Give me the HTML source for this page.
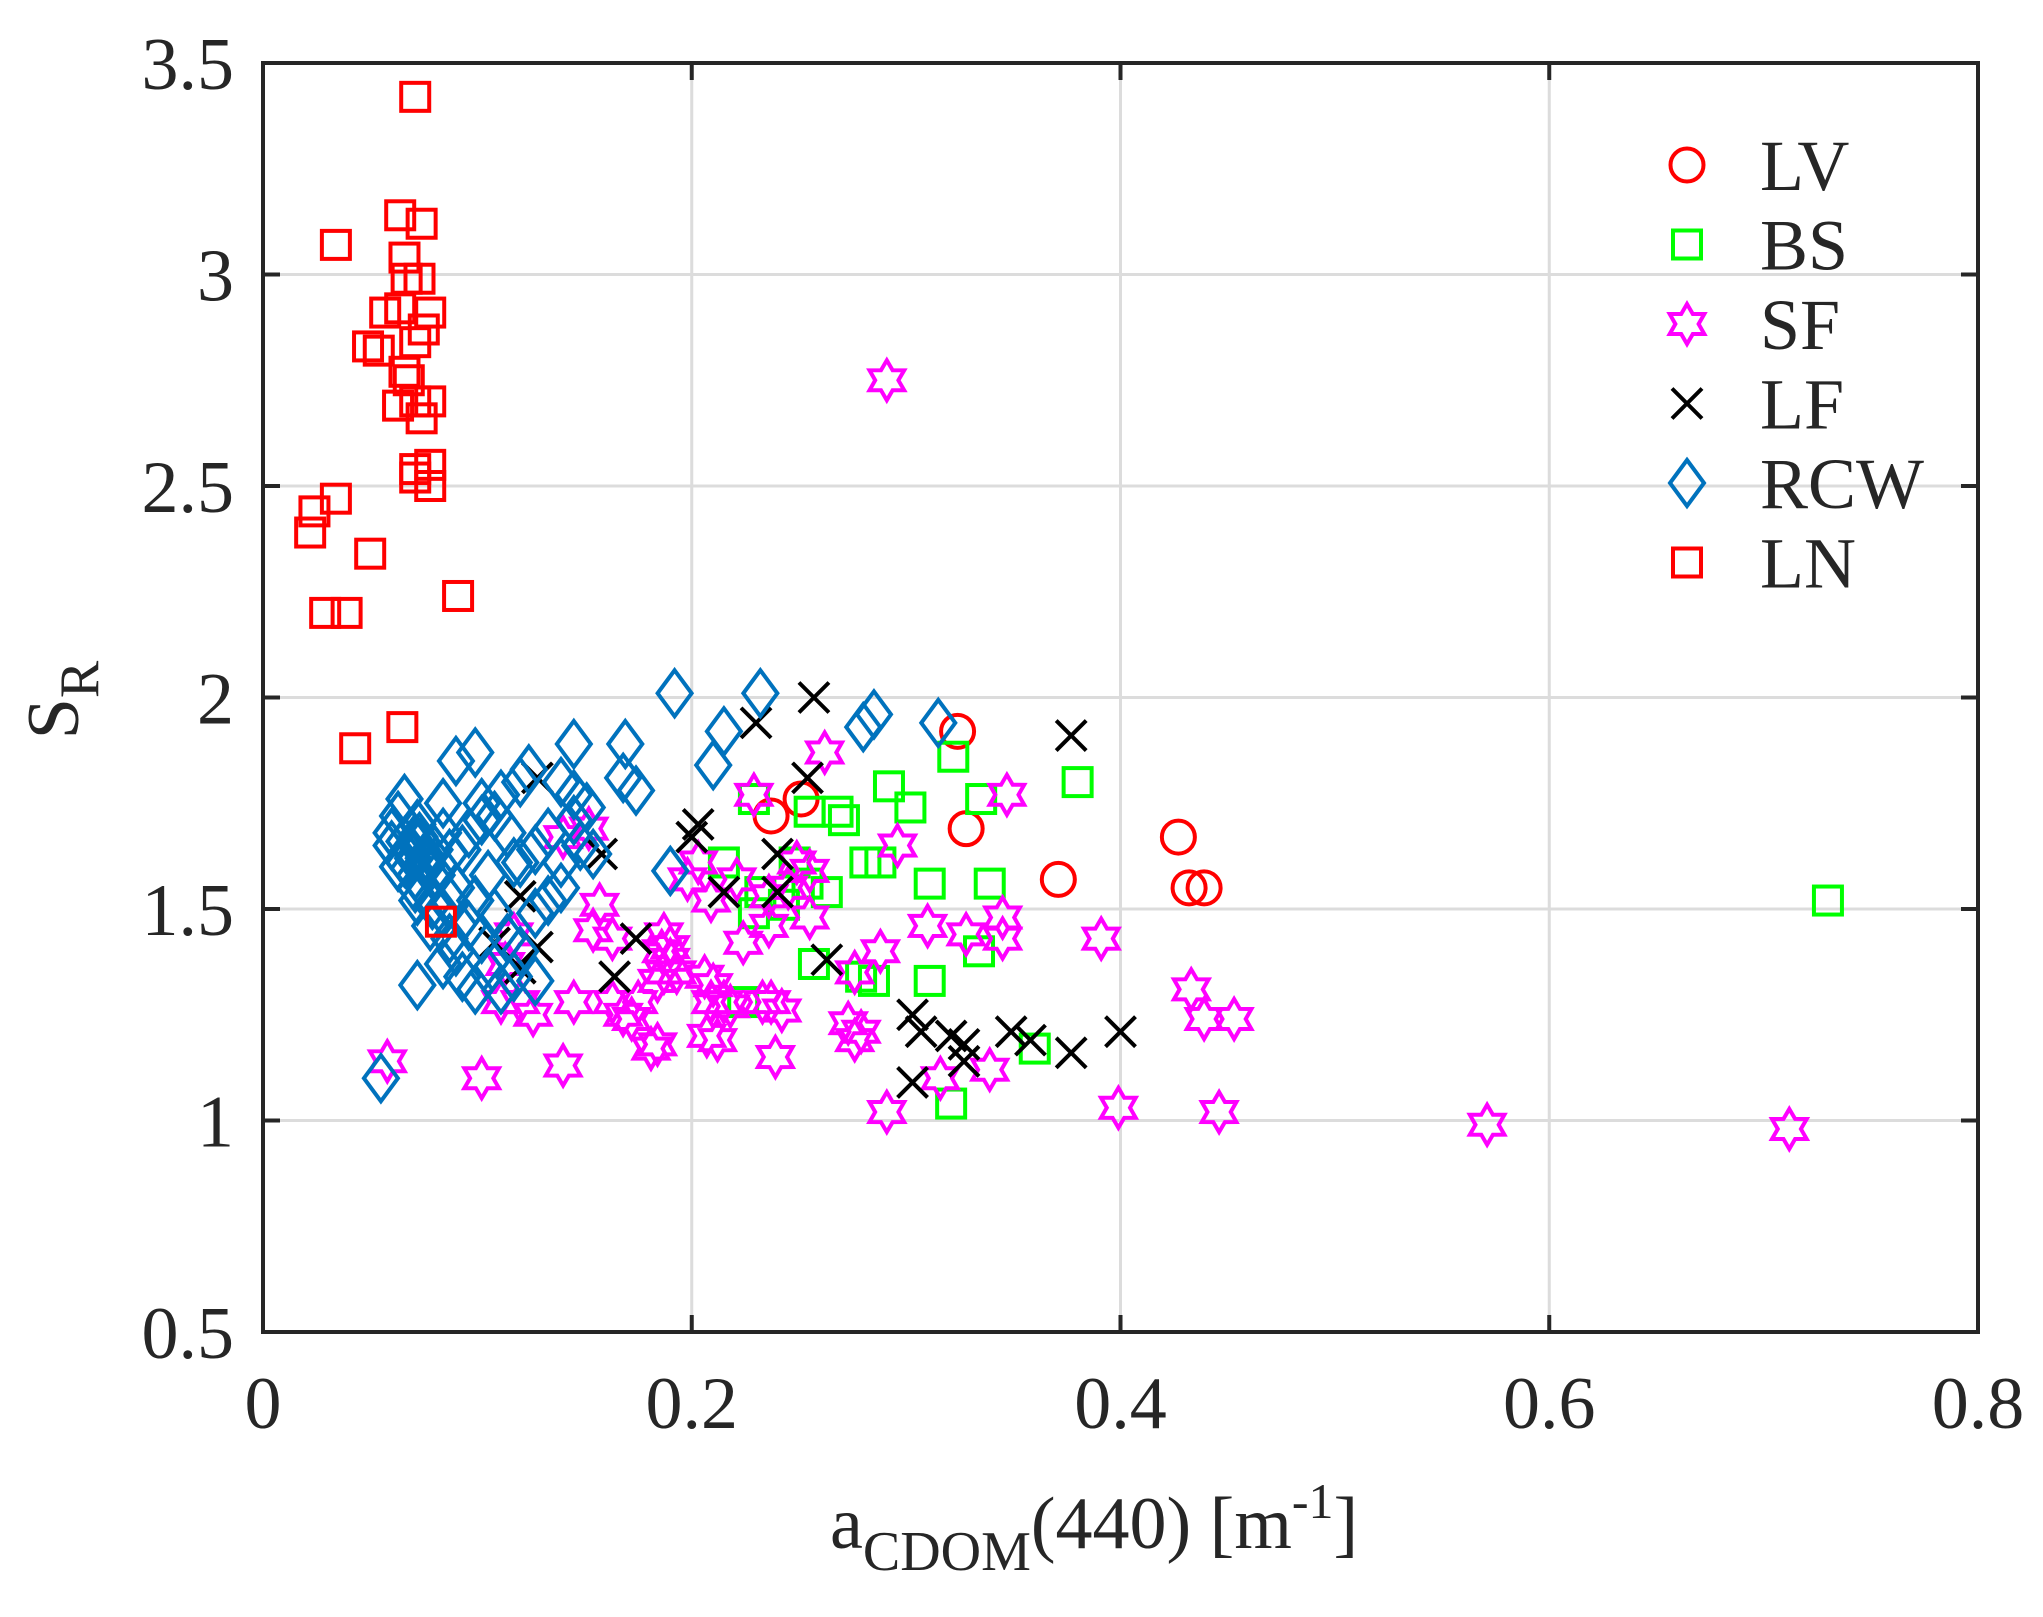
<!DOCTYPE html>
<html><head><meta charset="utf-8"><style>
html,body{margin:0;padding:0;background:#fff;}
svg{display:block;font-family:"Liberation Serif",serif;}
</style></head><body>
<svg id="chart" width="2043" height="1617" viewBox="0 0 2043 1617" xmlns="http://www.w3.org/2000/svg">
<g id="grid"></g>
<g id="marks"></g>
<g id="axes"></g>
<g id="legend"></g>
<text x="830" y="1548" font-size="74" fill="#262626">a<tspan font-size="56" dy="22">CDOM</tspan><tspan dy="-22">(440) [m</tspan><tspan font-size="50" dy="-30">-1</tspan><tspan dy="30">]</tspan></text>
<text transform="translate(78,700) rotate(-90)" text-anchor="middle" font-size="74" fill="#262626">S<tspan font-size="56" dy="20">R</tspan></text>
</svg>
<script>
const xTicks=[0,0.2,0.4,0.6,0.8];
const xTickLabels=["0","0.2","0.4","0.6","0.8"];
const yTicks=[0.5,1,1.5,2,2.5,3,3.5];
const yTickLabels=["0.5","1","1.5","2","2.5","3","3.5"];
const lvX=[0.237,0.251,0.324,0.328,0.371,0.427,0.432,0.439];
const lvY=[1.72,1.76,1.92,1.69,1.57,1.67,1.55,1.55];
const lnX=[0.071,0.034,0.064,0.074,0.066,0.067,0.073,0.078,0.057,0.064,0.075,0.071,0.049,0.054,0.066,0.068,0.063,0.071,0.078,0.074,0.078,0.071,0.071,0.078,0.034,0.024,0.022,0.050,0.091,0.029,0.039,0.065,0.043,0.083];
const lnY=[3.42,3.07,3.14,3.12,3.04,2.99,2.99,2.91,2.91,2.92,2.87,2.84,2.83,2.82,2.77,2.75,2.69,2.70,2.70,2.66,2.55,2.54,2.52,2.50,2.47,2.44,2.39,2.34,2.24,2.20,2.20,1.93,1.88,1.47];
const bsX=[0.229,0.322,0.380,0.292,0.302,0.335,0.255,0.268,0.271,0.215,0.281,0.288,0.311,0.339,0.263,0.254,0.232,0.229,0.248,0.257,0.279,0.285,0.311,0.334,0.360,0.321,0.730,0.224,0.243];
const bsY=[1.76,1.86,1.80,1.79,1.74,1.76,1.73,1.73,1.71,1.61,1.61,1.61,1.56,1.56,1.54,1.56,1.54,1.49,1.61,1.37,1.34,1.33,1.33,1.40,1.17,1.04,1.52,1.28,1.51];
const lfX=[0.257,0.230,0.377,0.254,0.128,0.200,0.203,0.158,0.240,0.215,0.240,0.120,0.108,0.174,0.128,0.120,0.164,0.263,0.303,0.307,0.321,0.327,0.327,0.303,0.349,0.358,0.377,0.400];
const lfY=[2.00,1.94,1.91,1.81,1.81,1.67,1.70,1.63,1.63,1.54,1.54,1.53,1.42,1.43,1.41,1.36,1.34,1.38,1.25,1.21,1.20,1.18,1.14,1.09,1.21,1.19,1.16,1.21];
const rcwX=[0.192,0.232,0.215,0.210,0.285,0.280,0.315,0.090,0.099,0.169,0.145,0.168,0.174,0.124,0.120,0.139,0.145,0.151,0.111,0.102,0.084,0.066,0.063,0.069,0.072,0.075,0.078,0.071,0.075,0.081,0.084,0.087,0.060,0.066,0.072,0.079,0.090,0.093,0.096,0.102,0.108,0.114,0.117,0.105,0.099,0.108,0.120,0.127,0.133,0.139,0.145,0.148,0.096,0.087,0.090,0.084,0.093,0.099,0.105,0.114,0.127,0.133,0.139,0.120,0.117,0.127,0.111,0.190,0.072,0.055,0.078,0.084,0.102,0.060,0.072,0.063,0.071,0.087,0.154,0.068,0.074,0.070,0.076,0.066,0.080,0.073];
const rcwY=[2.01,2.01,1.92,1.84,1.96,1.93,1.94,1.85,1.87,1.89,1.89,1.81,1.78,1.83,1.80,1.80,1.77,1.74,1.77,1.75,1.75,1.76,1.72,1.68,1.65,1.62,1.63,1.58,1.55,1.58,1.68,1.63,1.65,1.61,1.52,1.51,1.55,1.64,1.68,1.71,1.72,1.68,1.61,1.58,1.52,1.49,1.61,1.64,1.68,1.61,1.71,1.65,1.46,1.43,1.40,1.37,1.34,1.31,1.35,1.43,1.49,1.52,1.55,1.40,1.34,1.33,1.31,1.59,1.32,1.10,1.46,1.49,1.43,1.68,1.70,1.60,1.55,1.52,1.63,1.64,1.66,1.62,1.60,1.66,1.64,1.67];
const sfX=[0.291,0.229,0.262,0.347,0.296,0.140,0.152,0.157,0.154,0.163,0.117,0.113,0.111,0.126,0.120,0.145,0.140,0.102,0.058,0.168,0.175,0.172,0.181,0.184,0.187,0.186,0.187,0.190,0.193,0.184,0.206,0.210,0.207,0.212,0.215,0.218,0.209,0.224,0.236,0.237,0.242,0.239,0.255,0.255,0.249,0.236,0.233,0.273,0.276,0.279,0.288,0.276,0.291,0.310,0.316,0.328,0.339,0.345,0.345,0.391,0.433,0.439,0.453,0.399,0.446,0.571,0.712,0.203,0.198,0.221,0.245,0.190,0.209,0.163];
const sfY=[2.75,1.77,1.87,1.77,1.65,1.67,1.69,1.51,1.45,1.43,1.44,1.37,1.28,1.25,1.28,1.28,1.13,1.10,1.14,1.25,1.28,1.24,1.17,1.18,1.44,1.40,1.35,1.38,1.35,1.33,1.34,1.32,1.20,1.19,1.28,1.27,1.52,1.42,1.53,1.28,1.26,1.15,1.48,1.59,1.61,1.46,1.28,1.23,1.19,1.21,1.40,1.35,1.02,1.46,1.10,1.44,1.12,1.48,1.43,1.43,1.31,1.24,1.24,1.03,1.02,0.99,0.98,1.61,1.57,1.57,1.55,1.41,1.28,1.28];

const L=263,R=1978,T=63,B=1332;
const xs=v=>L+(v-0)/0.8*(R-L);
const ys=v=>B-(v-0.5)/3.0*(B-T);
const NS="http://www.w3.org/2000/svg";
function mk(tag,attrs,parent){const e=document.createElementNS(NS,tag);for(const k in attrs)e.setAttribute(k,attrs[k]);parent.appendChild(e);return e;}
const grid=document.getElementById('grid'),axes=document.getElementById('axes'),marks=document.getElementById('marks'),legend=document.getElementById('legend');

xTicks.forEach((t,i)=>{
  const x=xs(t);
  if(i>0&&i<xTicks.length-1){const g=mk('line',{x1:x,x2:x,y1:T,y2:B,stroke:'#dcdcdc','stroke-width':3},grid);
  
  }
  const tk=mk('line',{x1:x,x2:x,y1:B,y2:B-17,stroke:'#262626','stroke-width':4},axes);
  
  
  const tk2=mk('line',{x1:x,x2:x,y1:T,y2:T+17,stroke:'#262626','stroke-width':4},axes);
  
  
  const lb=mk('text',{x:x,y:1428,'text-anchor':'middle','font-size':74,fill:'#262626'},axes);
  lb.textContent=xTickLabels[i];
  
  
});
yTicks.forEach((t,i)=>{
  const y=ys(t);
  if(i>0&&i<yTicks.length-1){const g=mk('line',{x1:L,x2:R,y1:y,y2:y,stroke:'#dcdcdc','stroke-width':3},grid);
  
  }
  const tk=mk('line',{x1:L,x2:L+17,y1:y,y2:y,stroke:'#262626','stroke-width':4},axes);
  
  
  const tk2=mk('line',{x1:R,x2:R-17,y1:y,y2:y,stroke:'#262626','stroke-width':4},axes);
  
  
  const lb=mk('text',{x:234,y:y+26,'text-anchor':'end','font-size':74,fill:'#262626'},axes);
  lb.textContent=yTickLabels[i];
  
  
});
const frame=mk('rect',{x:L,y:T,width:R-L,height:B-T,fill:'none',stroke:'#262626','stroke-width':4},axes);



function star(cx,cy,r){let p=[];for(let k=0;k<12;k++){const a=-Math.PI/2+k*Math.PI/6;const rr=k%2?r*0.58:r;p.push((cx+rr*Math.cos(a)).toFixed(1)+','+(cy+rr*Math.sin(a)).toFixed(1));}return p.join(' ');}
function marker(type,cx,cy,parent){
  const sw=4;
  if(type==='circle')return mk('circle',{cx,cy,r:16.5,fill:'none',stroke:'#ff0000','stroke-width':sw},parent);
  if(type==='sqg')return mk('rect',{x:cx-14,y:cy-14,width:28,height:28,fill:'none',stroke:'#00ff00','stroke-width':sw},parent);
  if(type==='sqr')return mk('rect',{x:cx-14,y:cy-14,width:28,height:28,fill:'none',stroke:'#ff0000','stroke-width':sw},parent);
  if(type==='star')return mk('polygon',{points:star(cx,cy,20),fill:'none',stroke:'#ff00ff','stroke-width':sw},parent);
  if(type==='x')return mk('path',{d:`M${cx-15},${cy-15}L${cx+15},${cy+15}M${cx-15},${cy+15}L${cx+15},${cy-15}`,fill:'none',stroke:'#000','stroke-width':sw},parent);
  if(type==='diamond')return mk('polygon',{points:`${cx},${cy-23} ${cx+17},${cy} ${cx},${cy+23} ${cx-17},${cy}`,fill:'none',stroke:'#0072bd','stroke-width':sw},parent);
}
const series=[
  {name:'LV',type:'circle',x:lvX,y:lvY},
  {name:'BS',type:'sqg',x:bsX,y:bsY},
  {name:'SF',type:'star',x:sfX,y:sfY},
  {name:'LF',type:'x',x:lfX,y:lfY},
  {name:'RCW',type:'diamond',x:rcwX,y:rcwY},
  {name:'LN',type:'sqr',x:lnX,y:lnY}
];
series.forEach(s=>{
  const g=mk('g',{},marks);
  
  
  s.x.forEach((v,i)=>{
    const m=marker(s.type,xs(v),ys(s.y[i]),g);
    
    
  });
});
series.forEach((s,i)=>{
  const y=165+i*79.5;
  const g=mk('g',{},legend);
  
  
  marker(s.type,1687,y,g);
  const t=mk('text',{x:1760,y:y+25,'font-size':72,fill:'#262626'},g);
  t.textContent=s.name;
});
</script>
</body></html>
